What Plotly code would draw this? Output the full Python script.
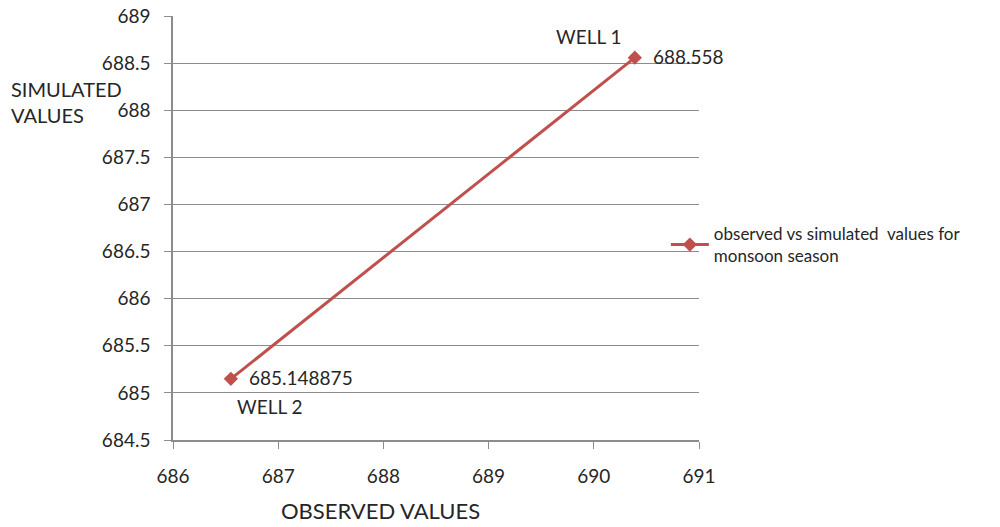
import plotly.graph_objects as go

# Observed vs simulated groundwater levels, monsoon season
wells = ["WELL 2", "WELL 1"]
observed = [686.55, 690.39]
simulated = [685.148875, 688.558]
series_name = "observed vs simulated  values for<br>monsoon season"

x_ticks = [686, 687, 688, 689, 690, 691]
y_ticks = [684.5, 685, 685.5, 686, 686.5, 687, 687.5, 688, 688.5, 689]

line_color = "#C0504D"
grid_color = "#8C8C8C"
font_family = "Lato, Carlito, Calibri, sans-serif"
text_color = "#262626"

fig = go.Figure()

fig.add_trace(go.Scatter(
    x=observed, y=simulated, name=series_name,
    mode="lines+markers",
    line=dict(color=line_color, width=3),
    marker=dict(symbol="diamond", size=11, color=line_color),
))

label_font = dict(family=font_family, size=19, color=text_color)

# value labels to the right of each point
for xv, yv in zip(observed, simulated):
    fig.add_annotation(x=xv, y=yv, text=str(yv), showarrow=False,
                       xanchor="left", xshift=16, yshift=1, font=label_font)

# well names
fig.add_annotation(x=observed[1], y=simulated[1], text=wells[1], showarrow=False,
                   xshift=-46, yshift=21, font=label_font)
fig.add_annotation(x=observed[0], y=simulated[0], text=wells[0], showarrow=False,
                   xshift=39, yshift=-28, font=label_font)

# axis titles
fig.add_annotation(xref="paper", yref="paper", x=-0.312, y=0.797, xanchor="left", yanchor="middle",
                   text="SIMULATED<br>VALUES", showarrow=False, align="left",
                   font=dict(family=font_family, size=20, color=text_color))
fig.add_annotation(xref="paper", yref="paper", x=0.394, y=-0.167, xanchor="center", yanchor="middle",
                   text="OBSERVED VALUES", showarrow=False,
                   font=dict(family=font_family, size=22, color=text_color))

fig.update_xaxes(
    range=[686, 691], tickvals=x_ticks, ticktext=[str(t) for t in x_ticks],
    showgrid=False, zeroline=False, automargin=False,
    showline=True, linecolor=grid_color, linewidth=1.5,
    ticks="outside", ticklen=7, tickcolor=grid_color,
    ticklabelstandoff=11,
    tickfont=dict(family=font_family, size=19, color=text_color),
)
fig.update_yaxes(
    range=[684.5, 689], tickvals=y_ticks, ticktext=[f"{t:g}" for t in y_ticks],
    showgrid=True, gridcolor=grid_color, gridwidth=1.2, zeroline=False, automargin=False,
    showline=True, linecolor=grid_color, linewidth=1.5,
    ticks="outside", ticklen=7, tickcolor=grid_color,
    ticklabelstandoff=10,
    tickfont=dict(family=font_family, size=19, color=text_color),
)

fig.update_layout(
    width=1000, height=527,
    margin=dict(l=173, r=301, t=16, b=87),
    paper_bgcolor="white", plot_bgcolor="white",
    showlegend=True,
    legend=dict(x=0.937, y=0.46, xanchor="left", yanchor="middle",
                itemwidth=38,
                font=dict(family=font_family, size=17, color=text_color),
                bgcolor="rgba(0,0,0,0)"),
)

fig.write_html("out.html")
